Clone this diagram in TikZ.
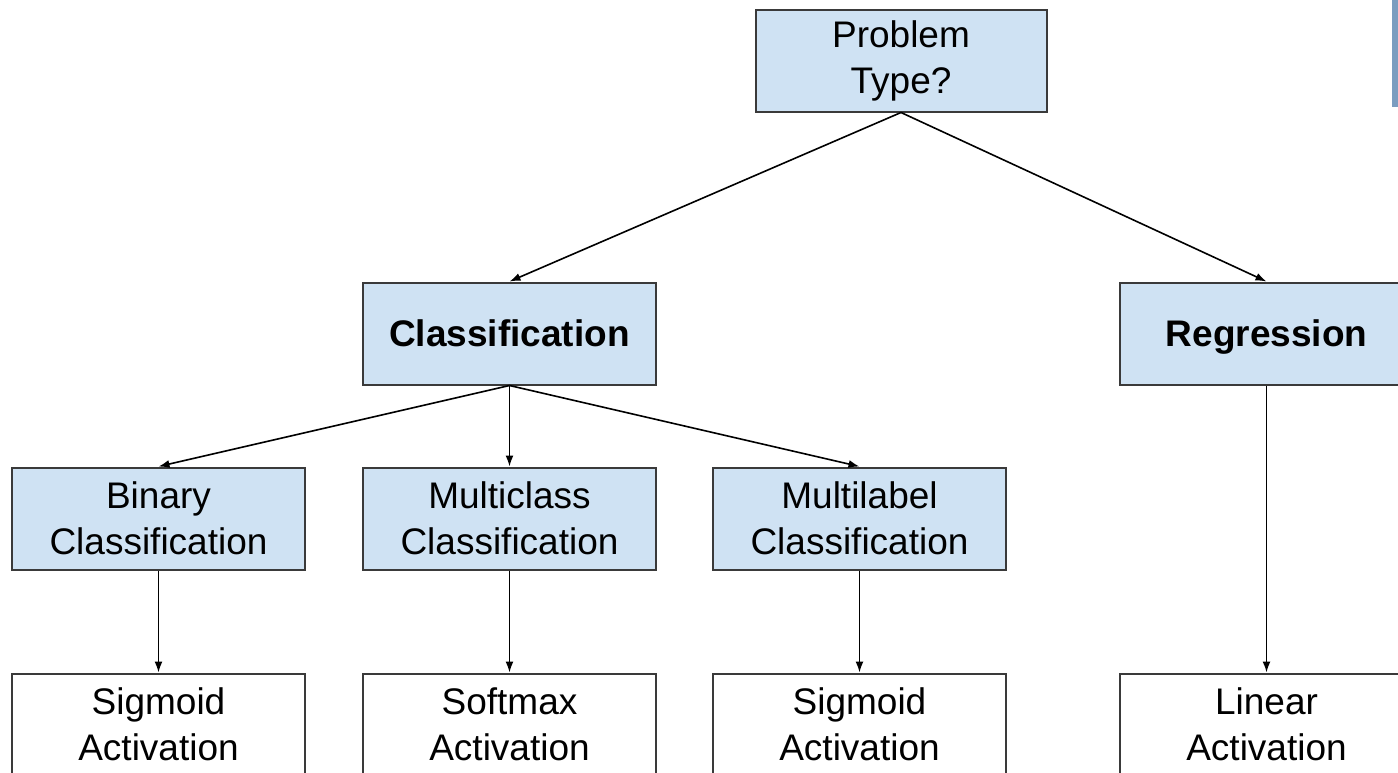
\documentclass[tikz,border=0pt]{standalone}
\usepackage{fontspec}
\setmainfont{Liberation Sans}
\usetikzlibrary{arrows.meta}
\definecolor{boxblue}{HTML}{CFE2F3}
\definecolor{edgegray}{HTML}{3A3A3A}
\definecolor{stripblue}{HTML}{7B9DC0}
\begin{document}
\begin{tikzpicture}[x=1pt,y=-1pt,
  box/.style={draw=edgegray, line width=2pt, minimum width=293pt, minimum height=102pt,
    inner sep=0pt, align=center, font=\fontsize{37}{46}\selectfont, text=black},
  bluebox/.style={box, fill=boxblue},
  actbox/.style={box, fill=white},
  arr/.style={-{Latex[length=11pt,width=8pt]}, line width=1.6pt, draw=black}]
\useasboundingbox (0,0) rectangle (1398,772);
\clip (0,0) rectangle (1398,772);
\fill[white] (0,0) rectangle (1398,772);
\fill[stripblue] (1392,0) rectangle (1398,107);

\node[bluebox, minimum width=291pt] (pt) at (901,60.5) {Problem\\Type?};
\node[bluebox] (cl) at (509.5,333.5) {\textbf{Classification}};
\node[bluebox, text depth=0pt] (rg) at (1266.5,333.5) {\textbf{Regression}};
\node[bluebox] (bc) at (158.5,518.5) {Binary\\Classification};
\node[bluebox] (mc) at (509.5,518.5) {Multiclass\\Classification};
\node[bluebox] (ml) at (859.5,518.5) {Multilabel\\Classification};
\node[actbox] (s1) at (158.5,724.5) {Sigmoid\\Activation};
\node[actbox] (sm) at (509.5,724.5) {Softmax\\Activation};
\node[actbox] (s2) at (859.5,724.5) {Sigmoid\\Activation};
\node[actbox] (la) at (1266.5,724.5) {Linear\\Activation};

\draw[arr] (pt.south) -- (cl.north);
\draw[arr] (pt.south) -- (rg.north);
\draw[arr] (cl.south) -- (bc.north);
\draw[arr] (cl.south) -- (mc.north);
\draw[arr] (cl.south) -- (ml.north);
\draw[arr] (bc.south) -- (s1.north);
\draw[arr] (mc.south) -- (sm.north);
\draw[arr] (ml.south) -- (s2.north);
\draw[arr] (rg.south) -- (la.north);
\end{tikzpicture}
\end{document}
